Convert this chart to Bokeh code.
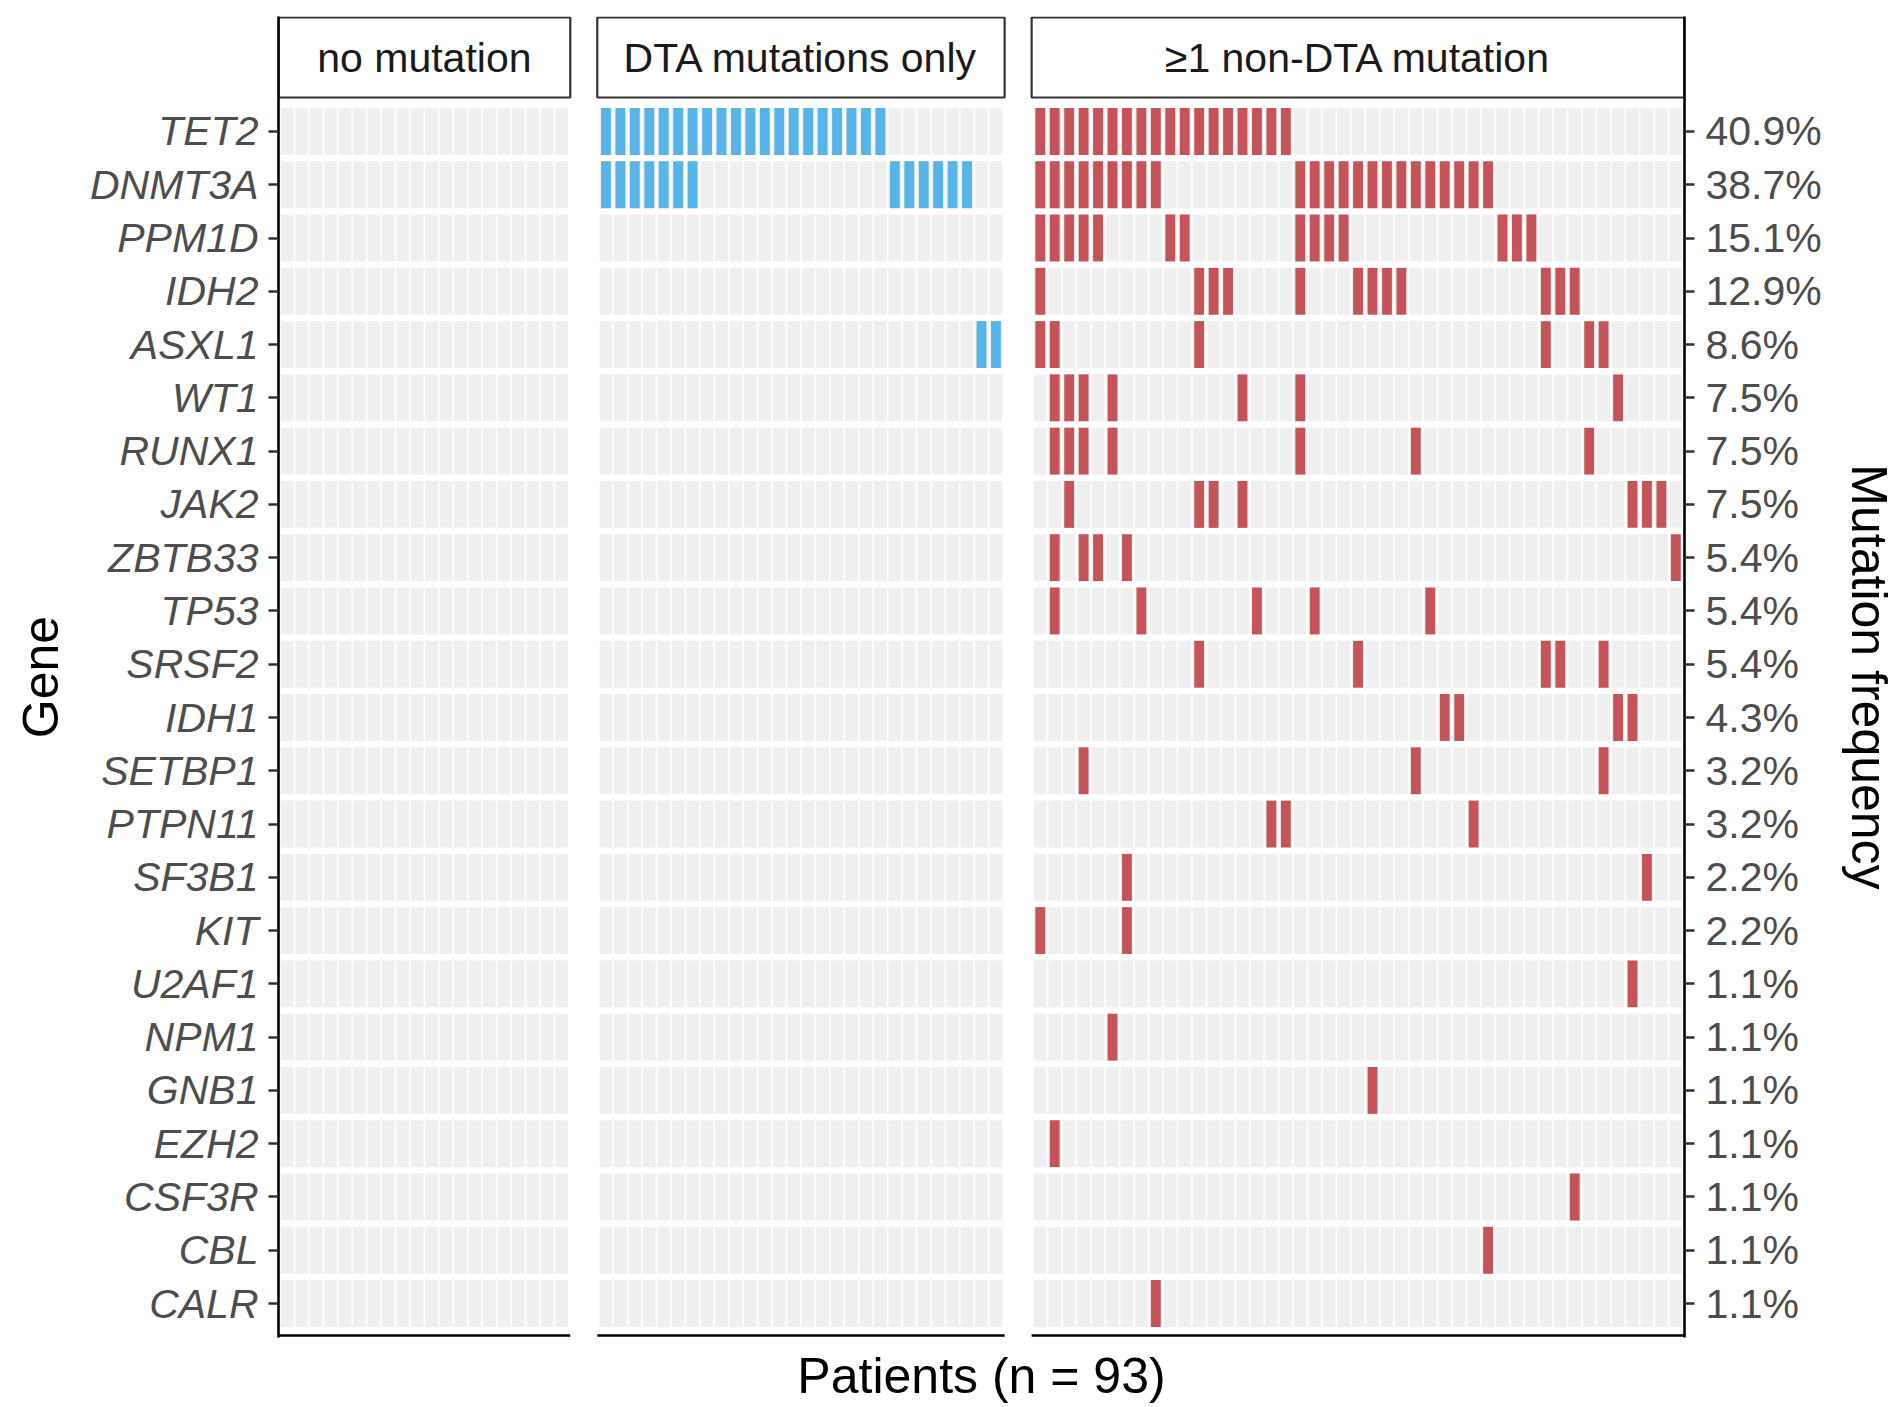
from bokeh.plotting import figure
from bokeh.models import Range1d, FixedTicker, LinearAxis
from bokeh.embed import file_html
from bokeh.resources import INLINE
from bokeh.core.properties import value

# ---------------- data ----------------
genes = ["TET2", "DNMT3A", "PPM1D", "IDH2", "ASXL1", "WT1", "RUNX1", "JAK2",
         "ZBTB33", "TP53", "SRSF2", "IDH1", "SETBP1", "PTPN11", "SF3B1", "KIT",
         "U2AF1", "NPM1", "GNB1", "EZH2", "CSF3R", "CBL", "CALR"]
freq_labels = ["40.9%", "38.7%", "15.1%", "12.9%", "8.6%", "7.5%", "7.5%", "7.5%",
               "5.4%", "5.4%", "5.4%", "4.3%", "3.2%", "3.2%", "2.2%", "2.2%",
               "1.1%", "1.1%", "1.1%", "1.1%", "1.1%", "1.1%", "1.1%"]
group_names = ["no mutation", "DTA mutations only", "\u22651 non-DTA mutation"]
group_sizes = [20, 28, 45]

# patient columns (1-based, within each group) carrying a mutation
dta_only_mutations = {
    "TET2": [1, 2, 3, 4, 5, 6, 7, 8, 9, 10, 11, 12, 13, 14, 15, 16, 17, 18, 19, 20],
    "DNMT3A": [1, 2, 3, 4, 5, 6, 7, 21, 22, 23, 24, 25, 26],
    "ASXL1": [27, 28],
}
non_dta_mutations = {
    "TET2": [1, 2, 3, 4, 5, 6, 7, 8, 9, 10, 11, 12, 13, 14, 15, 16, 17, 18],
    "DNMT3A": [1, 2, 3, 4, 5, 6, 7, 8, 9, 19, 20, 21, 22, 23, 24, 25, 26, 27, 28, 29, 30, 31, 32],
    "PPM1D": [1, 2, 3, 4, 5, 10, 11, 19, 20, 21, 22, 33, 34, 35],
    "IDH2": [1, 12, 13, 14, 19, 23, 24, 25, 26, 36, 37, 38],
    "ASXL1": [1, 2, 12, 36, 39, 40],
    "WT1": [2, 3, 4, 6, 15, 19, 41],
    "RUNX1": [2, 3, 4, 6, 19, 27, 39],
    "JAK2": [3, 12, 13, 15, 42, 43, 44],
    "ZBTB33": [2, 4, 5, 7, 45],
    "TP53": [2, 8, 16, 20, 28],
    "SRSF2": [12, 23, 36, 37, 40],
    "IDH1": [29, 30, 41, 42],
    "SETBP1": [4, 27, 40],
    "PTPN11": [17, 18, 31],
    "SF3B1": [7, 43],
    "KIT": [1, 7],
    "U2AF1": [42],
    "NPM1": [6],
    "GNB1": [24],
    "EZH2": [2],
    "CSF3R": [38],
    "CBL": [32],
    "CALR": [9],
}
group_mutations = [{}, dta_only_mutations, non_dta_mutations]
group_colors = [None, "#56B4E9", "#C4545A"]

# ---------------- layout ----------------
W, H = 1900, 1407
FL, FR = 278, 1684          # frame left/right (px)
PT, PB = 99, 1335           # panel top/bottom (px)
ST, SB = 17, 97             # strip top/bottom (px)
GAP = 27                    # gap between panels (px)
EXP = 0.6                   # discrete scale expansion

widths = [n - 1 + 2 * EXP for n in group_sizes]
u = (FR - FL - GAP * (len(group_sizes) - 1)) / sum(widths)
starts, ends = [], []
s = 0.0
for w in widths:
    starts.append(s)
    ends.append(s + w)
    s += w + GAP / u
xmax = ends[-1]

ng = len(genes)
ppu = (PB - PT) / (ng - 1 + 2 * EXP)
y_panel_lo = 1 - EXP
y_panel_hi = ng + EXP
y_lo = y_panel_lo - 2 / ppu
y_hi = y_panel_hi + (PT - ST + 1) / ppu
strip_bottom = y_panel_hi + (PT - SB) / ppu
strip_top = y_panel_hi + (PT - ST) / ppu

FONT = "Liberation Sans"

p = figure(width=W, height=H, x_range=Range1d(0, xmax), y_range=Range1d(y_lo, y_hi),
           output_backend="svg", toolbar_location=None,
           min_border_left=FL, min_border_right=W - FR,
           min_border_top=ST - 1, min_border_bottom=H - PB - 2)
p.outline_line_color = None
p.xgrid.visible = False
p.ygrid.visible = False
p.background_fill_color = "white"
p.border_fill_color = "white"

# background tiles and mutation tiles
bx, by = [], []
mx, my, mc = [], [], []
for g, n in enumerate(group_sizes):
    for i, gene in enumerate(genes):
        yv = ng - i
        muts = group_mutations[g].get(gene, [])
        for j in range(1, n + 1):
            xv = starts[g] + EXP + (j - 1)
            bx.append(xv)
            by.append(yv)
            if j in muts:
                mx.append(xv)
                my.append(yv)
                mc.append(group_colors[g])

p.rect(x=bx, y=by, width=0.88, height=0.88, fill_color="#EFEFEF", line_color=None)
p.rect(x=mx, y=my, width=0.68, height=0.88, fill_color=mc, line_color=None)

# panel bottom axis lines
p.segment(x0=starts, x1=ends, y0=[y_panel_lo] * 3, y1=[y_panel_lo] * 3,
          line_color="black", line_width=2.6)

# facet strips
p.quad(left=starts, right=ends, bottom=[strip_bottom] * 3, top=[strip_top] * 3,
       fill_color="white", line_color="#333333", line_width=2.2)
centers = [(a + b) / 2 for a, b in zip(starts, ends)]
p.text(x=centers, y=[(strip_bottom + strip_top) / 2] * 3, text=group_names,
       text_font=value(FONT), text_font_size=value("41px"),
       text_align="center", text_baseline="middle", text_color="#1A1A1A")

# axes
ticks = [ng - i for i in range(ng)]
yax = p.yaxis[0]
yax.ticker = FixedTicker(ticks=ticks)
yax.major_label_overrides = {ng - i: g for i, g in enumerate(genes)}
yax.major_label_text_font = FONT
yax.major_label_text_font_size = "41px"
yax.major_label_text_font_style = "italic"
yax.major_label_text_color = "#4D4D4D"
yax.major_label_standoff = 10
yax.major_tick_out = 10
yax.major_tick_in = 0
yax.minor_tick_out = 0
yax.minor_tick_in = 0
yax.major_tick_line_color = "#333333"
yax.major_tick_line_width = 2.4
yax.axis_line_color = "black"
yax.axis_line_width = 2.6
yax.axis_label = "Gene"
yax.axis_label_text_font = FONT
yax.axis_label_text_font_size = "50px"
yax.axis_label_text_font_style = "normal"
yax.axis_label_text_color = "black"
yax.axis_label_standoff = 18

rax = LinearAxis(ticker=FixedTicker(ticks=ticks))
rax.major_label_overrides = {ng - i: f for i, f in enumerate(freq_labels)}
rax.major_label_text_font = FONT
rax.major_label_text_font_size = "41px"
rax.major_label_text_color = "#4D4D4D"
rax.major_label_standoff = 11
rax.major_tick_out = 10
rax.major_tick_in = 0
rax.minor_tick_out = 0
rax.minor_tick_in = 0
rax.major_tick_line_color = "#333333"
rax.major_tick_line_width = 2.4
rax.axis_line_color = "black"
rax.axis_line_width = 2.6
rax.axis_label = "Mutation frequency"
rax.axis_label_text_font = FONT
rax.axis_label_text_font_size = "50px"
rax.axis_label_text_font_style = "normal"
rax.axis_label_text_color = "black"
rax.axis_label_standoff = 16
p.add_layout(rax, "right")

xax = p.xaxis[0]
xax.ticker = FixedTicker(ticks=[])
xax.axis_line_color = None
xax.major_tick_out = 0
xax.major_tick_in = 0
xax.minor_tick_out = 0
xax.minor_tick_in = 0
xax.major_label_standoff = 0
xax.major_label_text_font_size = "0px"
xax.axis_label = "Patients (n = 93)"
xax.axis_label_text_font = FONT
xax.axis_label_text_font_size = "50px"
xax.axis_label_text_font_style = "normal"
xax.axis_label_text_color = "black"
xax.axis_label_standoff = 10

open("out.html", "w").write(file_html(p, INLINE))
